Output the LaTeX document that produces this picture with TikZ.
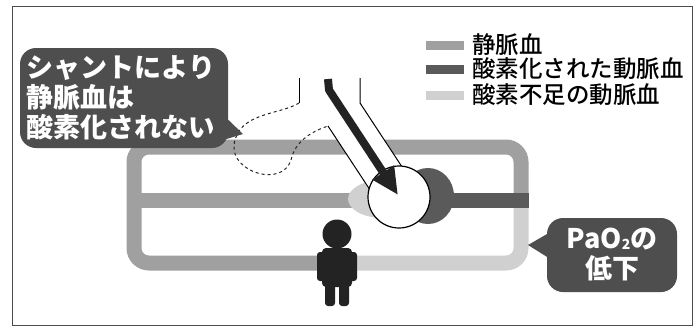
\documentclass[tikz,border=0pt]{standalone}
\usepackage{fontspec}
\setmainfont{Noto Sans CJK JP}
\newfontfamily\legendfont{Noto Sans CJK JP Medium}
\usetikzlibrary{arrows.meta,positioning,calc}
\definecolor{veinGray}{RGB}{160,160,160}
\definecolor{oxyDark}{RGB}{90,90,90}
\definecolor{lowOxy}{RGB}{208,208,208}
\definecolor{bubbleGray}{RGB}{78,78,78}
\definecolor{inkBlack}{RGB}{35,35,35}

\begin{document}
\begin{tikzpicture}[
    x=1pt, y=-1pt,
    vessel/.style={line width=15pt, rounded corners=15pt},
    wall/.style={line width=1pt, black},
    swatch/.style={minimum width=38pt, minimum height=9pt, inner sep=0pt},
    legendtext/.style={font=\legendfont\fontsize{23.5pt}{26pt}\selectfont, inner sep=0pt},
    bubble/.style={fill=bubbleGray, rounded corners=16pt, text=white,
        font=\bfseries\fontsize{27pt}{30pt}\selectfont, inner sep=0pt},
    ]
    \useasboundingbox (0,0) rectangle (699,330);
    \draw[gray!60!black, line width=1pt] (12,6) rectangle (692,325);
    % Circulation loop
    \draw[vessel, veinGray] (338,263) -- (134,263) -- (134,147) -- (521,147) -- (521,197);
    \draw[vessel, veinGray] (134,200) -- (372,200);
    \draw[vessel, lowOxy] (521,197) -- (521,263) -- (338,263);
    % Blood around the alveolus
    \fill[lowOxy] (383,199) ellipse [x radius=35pt, y radius=19pt];
    \fill[oxyDark] (428,196) ellipse [x radius=26pt, y radius=28pt];
    \draw[vessel, oxyDark] (430,200) -- (528.5,200);
    % Airway
    \fill[white] (299,78) -- (360,78) -- (360,103) -- (410,179) -- (376,199)
      -- (328,126) -- (299,103) -- cycle;
    \draw[wall] (299,78) -- (299,103);
    \draw[wall] (360,78) -- (360,103) -- (410,179);
    \draw[wall] (328,126) -- (376,199);
    \node[circle, draw, fill=white, line width=1.2pt, minimum size=62pt,
      inner sep=0pt] (alveolus) at (399,197) {};
    % Collapsed alveolus
    \draw[line width=1pt, gray!30!black, dash pattern=on 3pt off 3pt]
      (299,103) .. controls (280,115) and (238,112) .. (234,145)
      .. controls (231,172) and (282,188) .. (291,160)
      .. controls (295,142) and (310,132) .. (328,126);
    % Inspired air
    \draw[line width=8pt, inkBlack, line join=round,
      -{Triangle[length=27pt, width=24pt]}]
      (328,79) -- (329,90) -- (398,195);
    % Person
    \fill[inkBlack] (337,234) circle (14.5pt);
    \fill[inkBlack, rounded corners=4pt] (322,248) rectangle (352,287);
    \fill[inkBlack, rounded corners=3pt] (317,252) rectangle (326,281);
    \fill[inkBlack, rounded corners=3pt] (348,252) rectangle (357,281);
    \fill[inkBlack, rounded corners=3pt] (325,280) rectangle (335,306);
    \fill[inkBlack, rounded corners=3pt] (339,280) rectangle (349,306);
    % Callouts
    \node[bubble, minimum width=208pt, minimum height=100pt, text width=194pt,
      align=left] (shuntnote) at (124,98) {シャントにより\\静脈血は\\酸素化されない};
    \fill[bubbleGray] ($(shuntnote.east)+(-8,14)$) -- (243,134)
      -- ($(shuntnote.south east)+(-22,-3)$) -- cycle;
    \node[bubble, minimum width=130pt, minimum height=74pt, align=center,
      font=\bfseries\fontsize{27pt}{30pt}\selectfont] (paonote) at (612,255)
      {PaO\raisebox{-1pt}{\fontsize{14pt}{14pt}\selectfont 2}の\\低下};
    \fill[bubbleGray] ($(paonote.west)+(2,-22)$) -- (528,245)
      -- ($(paonote.west)+(2,3)$) -- cycle;
    % Legend
    \node[swatch, fill=veinGray] (sw1) at (445,45) {};
    \node[swatch, fill=oxyDark]  (sw2) at (445,69) {};
    \node[swatch, fill=lowOxy]   (sw3) at (445,95) {};
    \node[legendtext, right=8pt of sw1] (lg1) {静脈血};
    \node[legendtext, right=8pt of sw2] (lg2) {酸素化された動脈血};
    \node[legendtext, right=8pt of sw3] (lg3) {酸素不足の動脈血};
\end{tikzpicture}
\end{document}
